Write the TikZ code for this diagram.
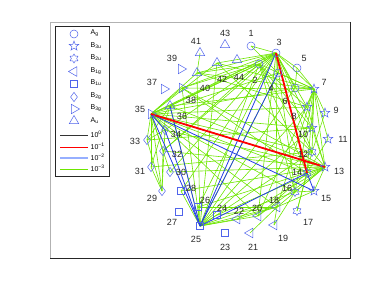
\documentclass[tikz,border=0pt]{standalone}
\usepackage{fontspec}
\setmainfont{Liberation Sans}
\usetikzlibrary{shapes.geometric,backgrounds}
\definecolor{mkblue}{RGB}{80,100,235}
\definecolor{egreen}{RGB}{110,230,0}
\definecolor{eblue}{RGB}{35,60,230}
\definecolor{lblue}{RGB}{150,175,255}
\begin{document}
\begin{tikzpicture}[x=1pt,y=-1pt,
  mk/.style={draw=mkblue, line width=0.5pt, inner sep=0pt, fill=none},
  ag/.style={mk, circle, minimum size=8pt},
  bthu/.style={mk, star, star points=5, star point ratio=2.4, minimum size=10pt},
  btwu/.style={mk, star, star points=6, star point ratio=1.7, minimum size=9pt},
  bog/.style={mk, regular polygon, regular polygon sides=3, minimum size=11pt, shape border rotate=90},
  bthg/.style={mk, regular polygon, regular polygon sides=3, minimum size=11pt, shape border rotate=-90},
  au/.style={mk, regular polygon, regular polygon sides=3, minimum size=11pt},
  bou/.style={mk, rectangle, minimum size=7pt},
  btwg/.style={mk, diamond, minimum width=7pt, minimum height=9.5pt},
  lab/.style={font=\fontsize{9}{10}\selectfont, inner sep=0pt, text=black!85},
  ltxt/.style={font=\fontsize{7}{8}\selectfont, inner sep=0pt, anchor=west},
  ge/.style={egreen, line width=0.6pt},
  be/.style={eblue, line width=0.8pt},
  re/.style={red, line width=1.8pt}]
\useasboundingbox (0,0) rectangle (387,291);
% axes frame
\draw[gray!60, line width=0.7pt] (50,258) -- (50,22) -- (350,22);
\draw[black!85, line width=0.8pt] (350,22) -- (350,258) -- (50,258);

% markers
\node[ag] (n1) at (251,46) {};
\node[ag] (n2) at (259,64) {};
\node[ag] (n3) at (276,53) {};
\node[ag] (n4) at (278,73) {};
\node[ag] (n5) at (297,68) {};
\node[ag] (n6) at (295,88) {};
\node[bthu] (n7) at (314,89) {};
\node[bthu] (n8) at (307,107) {};
\node[bthu] (n9) at (325,113) {};
\node[bthu] (n10) at (312,128) {};
\node[bthu] (n11) at (328,139) {};
\node[btwu] (n12) at (312,152) {};
\node[bthu] (n13) at (325,167) {};
\node[btwu] (n14) at (307,173) {};
\node[bthu] (n15) at (314,191) {};
\node[btwu] (n16) at (295,192) {};
\node[btwu] (n17) at (297,211) {};
\node[bog] (n18) at (277,207) {};
\node[bog] (n19) at (274,225) {};
\node[bog] (n20) at (258,216) {};
\node[bog] (n21) at (250,233) {};
\node[bog] (n22) at (237,219) {};
\node[bou] (n23) at (225,233) {};
\node[bou] (n24) at (217,215) {};
\node[bou] (n25) at (200,226) {};
\node[bou] (n26) at (198,207) {};
\node[bou] (n27) at (179,212) {};
\node[bou] (n28) at (181,191) {};
\node[btwg] (n29) at (162,191) {};
\node[btwg] (n30) at (170,172) {};
\node[btwg] (n31) at (151,167) {};
\node[btwg] (n32) at (163,151) {};
\node[btwg] (n33) at (147,140) {};
\node[btwg] (n34) at (165,130) {};
\node[bthg] (n35) at (151,114) {};
\node[au] (n36) at (170,106) {};
\node[bthg] (n37) at (164,89) {};
\node[bthg] (n38) at (182,88) {};
\node[bthg] (n39) at (181,69) {};
\node[au] (n40) at (197,73) {};
\node[au] (n41) at (200,53) {};
\node[au] (n42) at (217,63) {};
\node[au] (n43) at (225,45) {};
\node[au] (n44) at (237,60) {};

% labels
\node[lab] (l1) at (251,33) {1};
\node[lab] (l2) at (255,80) {2};
\node[lab] (l3) at (279,42) {3};
\node[lab] (l4) at (271,88) {4};
\node[lab] (l5) at (304,58) {5};
\node[lab] (l6) at (285,101) {6};
\node[lab] (l7) at (324,82) {7};
\node[lab] (l8) at (294,116) {8};
\node[lab] (l9) at (336,110) {9};
\node[lab] (l10) at (303,134) {10};
\node[lab] (l11) at (343,139) {11};
\node[lab] (l12) at (303,154) {12};
\node[lab] (l13) at (339,171) {13};
\node[lab] (l14) at (297,172) {14};
\node[lab] (l15) at (326,198) {15};
\node[lab] (l16) at (287,188) {16};
\node[lab] (l17) at (308,222) {17};
\node[lab] (l18) at (274,200) {18};
\node[lab] (l19) at (283,238) {19};
\node[lab] (l20) at (257,208) {20};
\node[lab] (l21) at (253,247) {21};
\node[lab] (l22) at (239,211) {22};
\node[lab] (l23) at (225,247) {23};
\node[lab] (l24) at (222,208) {24};
\node[lab] (l25) at (196,239) {25};
\node[lab] (l26) at (205,200) {26};
\node[lab] (l27) at (172,222) {27};
\node[lab] (l28) at (191,188) {28};
\node[lab] (l29) at (152,198) {29};
\node[lab] (l30) at (181,172) {30};
\node[lab] (l31) at (140,171) {31};
\node[lab] (l32) at (177,154) {32};
\node[lab] (l33) at (135,141) {33};
\node[lab] (l34) at (176,134) {34};
\node[lab] (l35) at (140,109) {35};
\node[lab] (l36) at (182,116) {36};
\node[lab] (l37) at (152,82) {37};
\node[lab] (l38) at (191,100) {38};
\node[lab] (l39) at (172,58) {39};
\node[lab] (l40) at (205,88) {40};
\node[lab] (l41) at (196,41) {41};
\node[lab] (l42) at (222,79) {42};
\node[lab] (l43) at (225,33) {43};
\node[lab] (l44) at (239,77) {44};

% connectors
\begin{pgfonlayer}{background}
\foreach \b in {2,3,4,6,8,10,12,14,16,18,20,36,38,40,42,34,33,31,29,32,30}
  \draw[ge] (n35.center) -- (n\b.center);
\foreach \b in {1,2,4,5,6,7,8,10,12,16,18,20,36,38,40,42,34,32,30,26,28}
  \draw[ge] (n3.center) -- (n\b.center);
\foreach \b in {2,4,5,6,8,9,10,11,12,13,14,16,18,20,36,38,40,42}
  \draw[ge] (n7.center) -- (n\b.center);
\foreach \b in {8,10,12,14,15,16,18,20,22,24,26,28,30,32,34,36,38}
  \draw[ge] (n13.center) -- (n\b.center);
\foreach \b in {2,4,6,8,10,12,16,18,20,22,24,26,28,36,38,40,42}
  \draw[ge] (n25.center) -- (n\b.center);
\foreach \b in {8,10,12,14,16,36,38,40,32}
  \draw[ge] (n2.center) -- (n\b.center);
\foreach \a/\b in {41/40,29/31,29/33,29/34,29/32,17/14,17/12,19/18,19/16,21/18,9/12,11/14,15/16,15/18,1/4,5/6,33/36,31/36,33/34,31/12,33/10,26/18,24/18,22/18,20/14,40/8,42/12,38/14}
  \draw[ge] (n\a.center) -- (n\b.center);
\foreach \a/\b in {25/35,25/36,25/34,25/3,25/4,25/14,35/13,35/15,14/15,35/34}
  \draw[be] (n\a.center) -- (n\b.center);
\draw[re] (n35.center) -- (n13.center);
\draw[re] (n3.center) -- (n14.center);
\end{pgfonlayer}

% legend
\draw[black!85, line width=0.6pt, fill=white] (55,26) rectangle (109,176);
\node[ag] (L1) at (74,34) {};
\node[bthu] (L2) at (74,46) {};
\node[btwu] (L3) at (74,58.5) {};
\node[bog] (L4) at (74,71.5) {};
\node[bou] (L5) at (74,83.5) {};
\node[btwg] (L6) at (74,97) {};
\node[bthg] (L7) at (74,109) {};
\node[au] (L8) at (74,121) {};
\node[ltxt] (T1) at (90.5,33) {A\textsubscript{g}};
\node[ltxt] (T2) at (90.5,45.5) {B\textsubscript{3u}};
\node[ltxt] (T3) at (90.5,58) {B\textsubscript{2u}};
\node[ltxt] (T4) at (90.5,71) {B\textsubscript{1g}};
\node[ltxt] (T5) at (90.5,83) {B\textsubscript{1u}};
\node[ltxt] (T6) at (90.5,96.5) {B\textsubscript{2g}};
\node[ltxt] (T7) at (90.5,108.5) {B\textsubscript{3g}};
\node[ltxt] (T8) at (90.5,120.5) {A\textsubscript{u}};
\coordinate (a1) at (60,135); \coordinate (b1) at (88,135);
\coordinate (a2) at (60,147); \coordinate (b2) at (88,147);
\coordinate (a3) at (60,158); \coordinate (b3) at (88,158);
\coordinate (a4) at (60,169); \coordinate (b4) at (88,169);
\draw[black!80, line width=0.6pt] (a1) -- (b1);
\draw[red, line width=0.6pt] (a2) -- (b2);
\draw[lblue, line width=1.4pt] (a3) -- (b3);
\draw[egreen, line width=0.6pt] (a4) -- (b4);
\node[ltxt] (T9) at (90.5,134) {10\textsuperscript{0}};
\node[ltxt] (T10) at (90.5,146) {10\textsuperscript{−1}};
\node[ltxt] (T11) at (90.5,157) {10\textsuperscript{−2}};
\node[ltxt] (T12) at (90.5,168) {10\textsuperscript{−3}};
\end{tikzpicture}
\end{document}
